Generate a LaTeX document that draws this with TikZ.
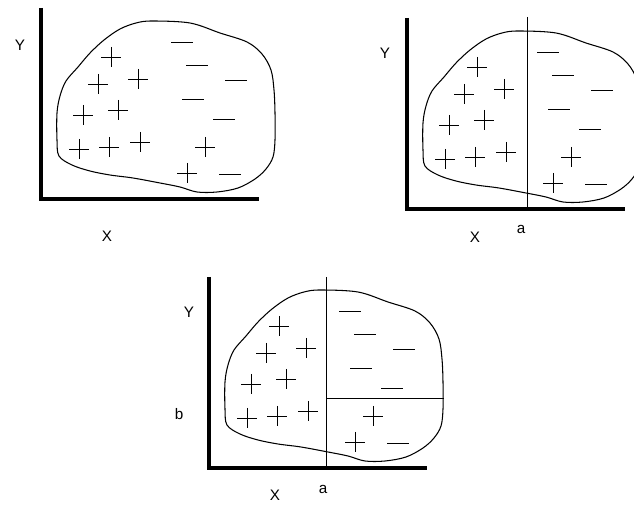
\documentclass[tikz,border=0pt]{standalone}
\usepackage{fontspec}
\setmainfont{Liberation Sans}
\tikzset{
  axisline/.style={line width=2.6pt},
  outline/.style={line width=0.9pt},
  splitline/.style={line width=0.8pt},
  sign/.style={line width=0.8pt},
  axislabel/.style={font=\fontsize{13}{15}\selectfont, inner sep=0pt}
}

% one panel: axes, class region and the samples (local pixel units)
\newcommand{\samplepanel}{%
  \draw[axisline] (41,8) -- (41,199) -- (259,199);
  \draw[outline] plot[smooth cycle, tension=0.55] coordinates {
    (152,21) (190,23) (220,33) (247,42) (262,54) (271,70) (274,90)
    (275,113) (275,140) (273,157) (266,169) (255,179) (238,188)
    (217,192) (197,192) (180,187) (160,183) (133,178) (110,175)
    (90,171) (72,165) (59,156) (57,140) (57,113) (60,96) (66,81)
    (78,67) (90,53) (104,40) (120,29) (136,23)};
  \foreach \x/\y in {111/57, 98/84, 138/79, 83/115, 118/110,
                     79/149, 109/147, 140/142, 205/147, 187/173}
    \draw[sign] (\x-10,\y) -- (\x+10,\y) (\x,\y-10) -- (\x,\y+10);
  \foreach \x/\y in {182/42, 197/65, 236/80, 193/99, 224/119, 230/174}
    \draw[sign] (\x-11,\y) -- (\x+11,\y);
}

\begin{document}
\begin{tikzpicture}[x=0.03cm, y=-0.03cm]
  \useasboundingbox (0,0) rectangle (634,512);

  % top left: the samples
  \samplepanel
  \node[axislabel] (ylabA) at (20,45) {Y};
  \node[axislabel] (xlabA) at (107,236) {X};

  % top right: first split on X
  \begin{scope}[shift={(366,10)}]
    \samplepanel
    \draw[splitline] (161,7) -- (161,197);
  \end{scope}
  \node[axislabel] (ylabB) at (385,53) {Y};
  \node[axislabel] (xlabB) at (475,237) {X};
  \node[axislabel] (alabB) at (521,229) {a};

  % bottom: second split on Y
  \begin{scope}[shift={(168,269)}]
    \samplepanel
    \draw[splitline] (158,8) -- (158,198);
    \draw[splitline] (158,129) -- (276,129);
  \end{scope}
  \node[axislabel] (ylabC) at (189,312) {Y};
  \node[axislabel] (blabC) at (179,414) {b};
  \node[axislabel] (xlabC) at (275,495) {X};
  \node[axislabel] (alabC) at (323,489) {a};
\end{tikzpicture}
\end{document}
